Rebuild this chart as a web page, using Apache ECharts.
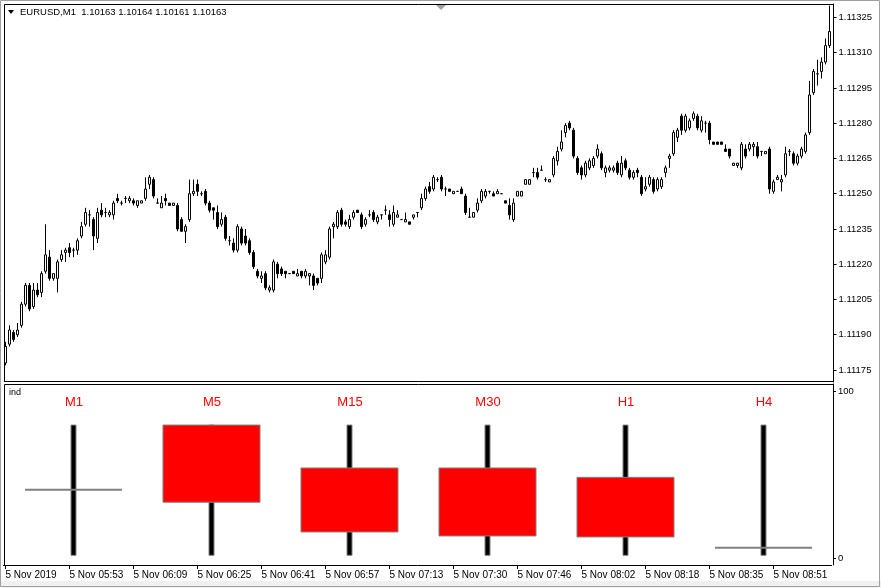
<!DOCTYPE html>
<html><head><meta charset="utf-8">
<script src="https://cdn.jsdelivr.net/npm/echarts@6/dist/echarts.min.js"></script>
<style>html,body{margin:0;padding:0;background:#fff}#c{width:881px;height:588px}</style>
</head><body><div id="c"></div>
<script>
// EURUSD M1 bars
const open = [
1.11178,1.11186,1.11191,1.11190,1.11194,1.11203,1.11211,1.11202,1.11209,1.11208,
1.11217,1.11223,1.11214,1.11214,1.11222,1.11225,1.11227,1.11226,1.11226,1.11232,
1.11237,1.11241,1.11239,1.11231,1.11243,1.11242,1.11241,1.11241,1.11248,1.11246,
1.11248,1.11247,1.11247,1.11245,1.11246,1.11248,1.11254,1.11256,1.11246,1.11244,
1.11248,1.11246,1.11245,1.11245,1.11239,1.11234,1.11239,1.11250,1.11254,1.11250,
1.11251,1.11246,1.11244,1.11242,1.11237,1.11240,1.11230,1.11229,1.11226,1.11235,
1.11232,1.11230,1.11225,1.11217,1.11214,1.11216,1.11209,1.11209,1.11220,1.11218,
1.11217,1.11216,1.11217,1.11215,1.11217,1.11215,1.11215,1.11215,1.11214,1.11214,
1.11221,1.11223,1.11236,1.11236,1.11243,1.11238,1.11236,1.11240,1.11243,1.11241,
1.11237,1.11241,1.11242,1.11238,1.11241,1.11243,1.11241,1.11237,1.11240,1.11239,
1.11238,1.11238,1.11240,1.11242,1.11244,1.11248,1.11253,1.11252,1.11256,1.11257,
1.11252,1.11252,1.11250,1.11251,1.11252,1.11249,1.11240,1.11240,1.11243,1.11247,
1.11249,1.11251,1.11250,1.11250,1.11250,1.11247,1.11245,1.11239,1.11249,1.11249,
1.11254,1.11254,1.11259,1.11259,1.11260,1.11256,1.11255,1.11258,1.11264,1.11269,
1.11276,1.11280,1.11277,1.11265,1.11261,1.11258,1.11261,1.11262,1.11266,1.11267,
1.11259,1.11260,1.11260,1.11263,1.11258,1.11264,1.11260,1.11257,1.11260,1.11257,
1.11252,1.11254,1.11256,1.11252,1.11253,1.11259,1.11265,1.11267,1.11274,1.11283,
1.11277,1.11278,1.11282,1.11283,1.11277,1.11280,1.11280,1.11272,1.11272,1.11272,
1.11269,1.11269,1.11262,1.11262,1.11261,1.11269,1.11269,1.11270,1.11270,1.11268,
1.11267,1.11269,1.11251,1.11256,1.11255,1.11258,1.11268,1.11267,1.11263,1.11266,
1.11268,1.11276,1.11293,1.11301,1.11302,1.11306,1.11313];
const high = [
1.11187,1.11194,1.11192,1.11195,1.11204,1.11212,1.11212,1.11212,1.11212,1.11217,
1.11237,1.11226,1.11216,1.11222,1.11226,1.11227,1.11229,1.11227,1.11231,1.11238,
1.11244,1.11243,1.11240,1.11244,1.11246,1.11244,1.11243,1.11247,1.11250,1.11247,
1.11249,1.11249,1.11248,1.11247,1.11247,1.11257,1.11258,1.11257,1.11248,1.11249,
1.11250,1.11246,1.11246,1.11246,1.11240,1.11237,1.11256,1.11256,1.11256,1.11251,
1.11252,1.11247,1.11244,1.11245,1.11242,1.11241,1.11232,1.11231,1.11237,1.11236,
1.11235,1.11231,1.11226,1.11218,1.11217,1.11217,1.11211,1.11222,1.11221,1.11219,
1.11217,1.11216,1.11217,1.11218,1.11217,1.11218,1.11216,1.11216,1.11214,1.11225,
1.11226,1.11236,1.11238,1.11243,1.11244,1.11239,1.11241,1.11243,1.11243,1.11242,
1.11240,1.11243,1.11243,1.11241,1.11241,1.11245,1.11243,1.11245,1.11243,1.11239,
1.11242,1.11238,1.11241,1.11242,1.11250,1.11253,1.11255,1.11258,1.11257,1.11258,
1.11253,1.11252,1.11251,1.11251,1.11253,1.11250,1.11244,1.11242,1.11248,1.11252,
1.11252,1.11251,1.11251,1.11252,1.11250,1.11247,1.11248,1.11248,1.11251,1.11251,
1.11256,1.11256,1.11261,1.11261,1.11262,1.11257,1.11256,1.11266,1.11270,1.11277,
1.11280,1.11281,1.11278,1.11266,1.11262,1.11264,1.11265,1.11266,1.11271,1.11268,
1.11262,1.11262,1.11262,1.11264,1.11266,1.11265,1.11261,1.11260,1.11261,1.11258,
1.11257,1.11258,1.11257,1.11257,1.11257,1.11262,1.11267,1.11277,1.11278,1.11284,
1.11284,1.11282,1.11285,1.11284,1.11283,1.11281,1.11281,1.11272,1.11272,1.11272,
1.11271,1.11269,1.11263,1.11263,1.11272,1.11271,1.11272,1.11272,1.11272,1.11268,
1.11268,1.11270,1.11256,1.11258,1.11258,1.11270,1.11269,1.11268,1.11267,1.11270,
1.11276,1.11298,1.11303,1.11307,1.11308,1.11316,1.11330];
const low = [
1.11177,1.11185,1.11187,1.11189,1.11193,1.11202,1.11200,1.11201,1.11206,1.11206,
1.11216,1.11213,1.11213,1.11208,1.11221,1.11221,1.11223,1.11223,1.11224,1.11231,
1.11236,1.11236,1.11226,1.11229,1.11240,1.11240,1.11240,1.11239,1.11246,1.11245,
1.11246,1.11246,1.11245,1.11244,1.11246,1.11247,1.11252,1.11248,1.11246,1.11244,
1.11245,1.11245,1.11245,1.11234,1.11234,1.11229,1.11238,1.11249,1.11249,1.11249,
1.11245,1.11242,1.11239,1.11235,1.11236,1.11230,1.11228,1.11225,1.11225,1.11228,
1.11228,1.11224,1.11218,1.11214,1.11212,1.11209,1.11208,1.11208,1.11214,1.11215,
1.11214,1.11216,1.11216,1.11215,1.11214,1.11214,1.11211,1.11209,1.11211,1.11212,
1.11220,1.11222,1.11231,1.11235,1.11236,1.11236,1.11235,1.11239,1.11242,1.11235,
1.11236,1.11240,1.11238,1.11237,1.11239,1.11241,1.11236,1.11236,1.11240,1.11239,
1.11238,1.11237,1.11239,1.11240,1.11243,1.11247,1.11250,1.11251,1.11255,1.11251,
1.11249,1.11251,1.11250,1.11251,1.11250,1.11241,1.11240,1.11240,1.11242,1.11246,
1.11248,1.11250,1.11249,1.11250,1.11250,1.11246,1.11239,1.11238,1.11249,1.11249,
1.11254,1.11254,1.11257,1.11256,1.11260,1.11255,1.11255,1.11257,1.11262,1.11268,
1.11274,1.11277,1.11265,1.11258,1.11256,1.11257,1.11260,1.11261,1.11265,1.11260,
1.11257,1.11259,1.11259,1.11258,1.11257,1.11260,1.11256,1.11256,1.11257,1.11249,
1.11251,1.11253,1.11250,1.11251,1.11252,1.11257,1.11261,1.11266,1.11272,1.11275,
1.11276,1.11277,1.11281,1.11277,1.11276,1.11276,1.11271,1.11271,1.11271,1.11271,
1.11268,1.11265,1.11262,1.11261,1.11260,1.11265,1.11268,1.11266,1.11265,1.11266,
1.11267,1.11250,1.11250,1.11256,1.11251,1.11257,1.11266,1.11262,1.11262,1.11265,
1.11267,1.11275,1.11292,1.11296,1.11299,1.11305,1.11312];
const close = [
1.11185,1.11192,1.11188,1.11192,1.11203,1.11211,1.11201,1.11209,1.11207,1.11216,
1.11224,1.11214,1.11216,1.11221,1.11224,1.11226,1.11225,1.11226,1.11230,1.11236,
1.11242,1.11241,1.11232,1.11242,1.11241,1.11242,1.11242,1.11246,1.11247,1.11246,
1.11248,1.11248,1.11246,1.11247,1.11247,1.11252,1.11257,1.11249,1.11246,1.11246,
1.11247,1.11245,1.11246,1.11235,1.11234,1.11236,1.11250,1.11251,1.11251,1.11250,
1.11246,1.11243,1.11243,1.11236,1.11239,1.11231,1.11230,1.11226,1.11236,1.11229,
1.11229,1.11225,1.11219,1.11215,1.11215,1.11210,1.11210,1.11221,1.11216,1.11216,
1.11216,1.11216,1.11216,1.11216,1.11215,1.11217,1.11216,1.11211,1.11212,1.11224,
1.11224,1.11235,1.11237,1.11242,1.11237,1.11237,1.11239,1.11242,1.11242,1.11236,
1.11239,1.11241,1.11239,1.11240,1.11241,1.11243,1.11239,1.11242,1.11241,1.11239,
1.11239,1.11237,1.11241,1.11242,1.11248,1.11252,1.11251,1.11257,1.11256,1.11252,
1.11252,1.11251,1.11251,1.11251,1.11250,1.11242,1.11240,1.11242,1.11246,1.11251,
1.11251,1.11251,1.11249,1.11251,1.11250,1.11246,1.11241,1.11246,1.11251,1.11251,
1.11256,1.11256,1.11259,1.11257,1.11260,1.11256,1.11256,1.11265,1.11268,1.11272,
1.11279,1.11278,1.11266,1.11259,1.11258,1.11263,1.11264,1.11265,1.11269,1.11261,
1.11261,1.11261,1.11261,1.11259,1.11263,1.11261,1.11257,1.11259,1.11259,1.11250,
1.11253,1.11257,1.11251,1.11256,1.11256,1.11261,1.11266,1.11276,1.11277,1.11277,
1.11283,1.11281,1.11284,1.11278,1.11281,1.11280,1.11273,1.11271,1.11271,1.11271,
1.11268,1.11266,1.11263,1.11263,1.11271,1.11266,1.11271,1.11271,1.11266,1.11268,
1.11268,1.11252,1.11255,1.11257,1.11256,1.11267,1.11268,1.11263,1.11266,1.11269,
1.11275,1.11292,1.11302,1.11301,1.11306,1.11313,1.11319];

const priceTicks = [1.11175,1.11190,1.11205,1.11220,1.11235,1.11250,1.11265,1.11280,1.11295,1.11310,1.11325];
const timeLabels = ['5 Nov 2019','5 Nov 05:53','5 Nov 06:09','5 Nov 06:25','5 Nov 06:41','5 Nov 06:57',
  '5 Nov 07:13','5 Nov 07:30','5 Nov 07:46','5 Nov 08:02','5 Nov 08:18','5 Nov 08:35','5 Nov 08:51'];
const barsPerLabel = 16;

// indicator pane: one candle per timeframe (0..100 scale)
const tfNames = ['M1','M5','M15','M30','H1','H4'];
const tfHigh  = [80, 80, 80, 80, 80, 80];
const tfLow   = [2, 2, 2, 2, 2, 2];
const tfBodyTop    = [41.3, 80, 54.3, 54.3, 48.7, 6.6];
const tfBodyBottom = [41.3, 33.8, 16, 13.6, 13, 6.6];
const indTicks = [0, 100];

const barIdx = open.map((_, i) => i);
const timeCats = barIdx.map(i => i % barsPerLabel === 0 ? (timeLabels[i / barsPerLabel] || '') : '');
const ohlc = barIdx.map(i => [open[i], close[i], low[i], high[i]]);
const tfData = tfNames.map((n, i) => [i, tfLow[i], tfHigh[i], tfBodyBottom[i], tfBodyTop[i]]);

const FONT = 'Liberation Sans';
const chart = echarts.init(document.getElementById('c'), null, {renderer: 'canvas'});
chart.setOption({
  animation: false,
  backgroundColor: '#fff',
  grid: [
    {left: 3.5, top: 4, width: 828, height: 378},
    {left: 5, top: 384, width: 828, height: 181},
    {left: 3.5, top: 384, width: 828, height: 181}
  ],
  xAxis: [
    {gridIndex: 0, type: 'category', data: barIdx, boundaryGap: true, show: false},
    {gridIndex: 1, type: 'category', data: tfNames, position: 'top', boundaryGap: true,
      axisLine: {show: false}, axisTick: {show: false}, splitLine: {show: false},
      axisLabel: {inside: true, margin: 12, color: '#ff0000', fontFamily: FONT, fontSize: 13}},
    {gridIndex: 2, type: 'category', data: timeCats, position: 'bottom', boundaryGap: true,
      axisLine: {show: true, lineStyle: {color: '#000', width: 1}},
      axisTick: {show: true, alignWithLabel: true, length: 4, lineStyle: {color: '#000'},
        interval: (i) => i % barsPerLabel === 0},
      axisLabel: {show: true, interval: (i) => i % barsPerLabel === 0, align: 'left', margin: 5,
        color: '#000', fontFamily: FONT, fontSize: 10, hideOverlap: false}}
  ],
  yAxis: [
    {gridIndex: 0, type: 'value', position: 'right', offset: 2, min: 1.111699, max: 1.113307, scale: true,
      splitLine: {show: false},
      axisLine: {show: true, lineStyle: {color: '#000'}},
      axisTick: {show: true, length: 3, customValues: priceTicks, lineStyle: {color: '#000'}},
      axisLabel: {customValues: priceTicks, margin: 5, color: '#000', fontFamily: FONT, fontSize: 9.5,
        formatter: v => v.toFixed(5)}},
    {gridIndex: 1, type: 'value', position: 'right', min: -3.8, max: 104.6,
      splitLine: {show: false},
      axisLine: {show: true, lineStyle: {color: '#000'}},
      axisTick: {show: true, length: 3, customValues: indTicks, lineStyle: {color: '#000'}},
      axisLabel: {customValues: indTicks, margin: 5, color: '#000', fontFamily: FONT, fontSize: 9.5}},
    {gridIndex: 2, type: 'value', show: false, min: 0, max: 1}
  ],
  series: [
    {type: 'candlestick', xAxisIndex: 0, yAxisIndex: 0, data: ohlc, barWidth: 2,
      itemStyle: {color: '#fff', color0: '#000', borderColor: '#000', borderColor0: '#000',
        borderColorDoji: '#000', borderWidth: 1}},
    {type: 'custom', xAxisIndex: 1, yAxisIndex: 1, data: tfData,
      renderItem: function (params, api) {
        const i = api.value(0);
        const pLow = api.coord([i, api.value(1)]);
        const pHigh = api.coord([i, api.value(2)]);
        const pBot = api.coord([i, api.value(3)]);
        const pTop = api.coord([i, api.value(4)]);
        const slot = api.size([1, 0])[0];
        const bw = slot * 0.703;
        const ww = 5;
        const cx = Math.round(pLow[0]) - 0.5;
        const children = [
          {type: 'rect', shape: {x: cx - ww / 2, y: pHigh[1], width: ww, height: pLow[1] - pHigh[1]},
            style: {fill: '#000', stroke: '#808080', lineWidth: 1}}
        ];
        const h = pBot[1] - pTop[1];
        if (h > 1) {
          children.push({type: 'rect', shape: {x: cx - bw / 2, y: pTop[1], width: bw, height: h},
            style: {fill: '#ff0000', stroke: '#808080', lineWidth: 1}});
        } else {
          children.push({type: 'line', shape: {x1: cx - bw / 2, y1: pTop[1], x2: cx + bw / 2, y2: pTop[1]},
            style: {stroke: '#808080', lineWidth: 2}});
        }
        return {type: 'group', children: children};
      }}
  ],
  graphic: [
    {type: 'rect', shape: {x: 0, y: 581, width: 881, height: 7}, style: {fill: '#f0f0f0'}, silent: true},
    {type: 'rect', shape: {x: 0.5, y: 0.5, width: 879, height: 586}, style: {fill: 'none', stroke: '#a0a0a0', lineWidth: 1}, silent: true},
    {type: 'line', shape: {x1: 4.5, y1: 4.5, x2: 833, y2: 4.5}, style: {stroke: '#000', lineWidth: 1}, silent: true},
    {type: 'line', shape: {x1: 4.5, y1: 4.5, x2: 4.5, y2: 382}, style: {stroke: '#000', lineWidth: 1}, silent: true},
    {type: 'line', shape: {x1: 4.5, y1: 381.5, x2: 833, y2: 381.5}, style: {stroke: '#000', lineWidth: 1}, silent: true},
    {type: 'line', shape: {x1: 4.5, y1: 384.5, x2: 833, y2: 384.5}, style: {stroke: '#000', lineWidth: 1}, silent: true},
    {type: 'line', shape: {x1: 4.5, y1: 384.5, x2: 4.5, y2: 565}, style: {stroke: '#000', lineWidth: 1}, silent: true},
    {type: 'polygon', shape: {points: [[436, 5], [446, 5], [441, 10]]}, style: {fill: '#a0a0a0'}, silent: true},
    {type: 'polygon', shape: {points: [[8, 10], [14, 10], [11, 14]]}, style: {fill: '#000'}, silent: true},
    {type: 'text', x: 20, y: 12, style: {text: 'EURUSD,M1  1.10163 1.10164 1.10161 1.10163', fontFamily: FONT, fontSize: 9.5,
      fill: '#000', verticalAlign: 'middle'}, silent: true},
    {type: 'text', x: 9, y: 393, style: {text: 'ind', fontFamily: FONT, fontSize: 9, fill: '#000', verticalAlign: 'middle'}, silent: true}
  ]
});
</script></body></html>
